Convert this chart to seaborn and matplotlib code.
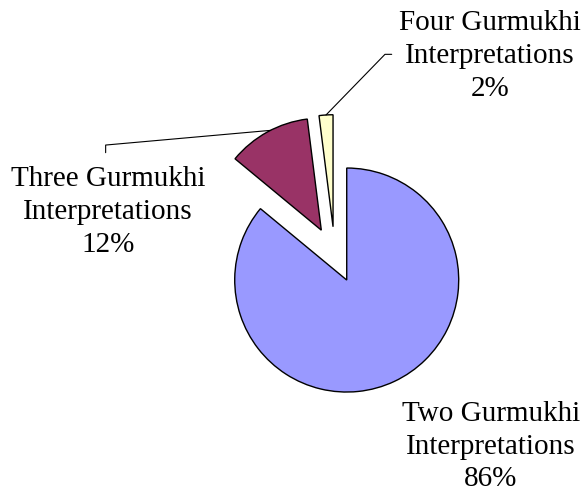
import matplotlib
matplotlib.use("Agg")
import matplotlib.pyplot as plt
import seaborn as sns
import numpy as np

# ---- data ----
categories = ["Two Gurmukhi\nInterpretations", "Three Gurmukhi\nInterpretations", "Four Gurmukhi\nInterpretations"]
values = [86, 12, 2]
colors = ["#9999FF", "#993366", "#FFFFCC"]

sns.set_theme(style="white")
plt.rcParams['font.family'] = ['Liberation Serif', 'DejaVu Serif']

fig = plt.figure(figsize=(5.85, 4.92), dpi=100)
ax = fig.add_axes([0, 0, 1, 1])
wedges, _ = ax.pie(values, colors=colors, startangle=90, counterclock=False,
                   explode=[0.25] * 3, radius=1,
                   wedgeprops=dict(edgecolor='black', linewidth=1.0))

# map: pie centre at pixel (334.8, 254.7), 112 px per unit
s = 112.0
cx, cy = 334.8, 254.7
W, H = 585, 492
ax.set_xlim(-cx / s, (W - cx) / s)
ax.set_ylim(-(H - cy) / s, cy / s)
ax.set_aspect('auto')
ax.axis('off')

total = sum(values)
pcts = [f"{round(v / total * 100)}%" for v in values]

label_pos = [(1.395, -1.715), (-2.025, 0.381), (1.386, 1.775)]
for lab, pct, (lx, ly) in zip(categories, pcts, label_pos):
    ax.text(lx, ly, f"{lab}\n{pct}", ha='center', va='center',
            multialignment='center', fontsize=21, color='black',
            linespacing=1.33)

def arc_point(w, ang):
    c = w.center
    a = np.deg2rad(ang)
    return c[0] + w.r * np.cos(a), c[1] + w.r * np.sin(a)

# leader for "Three"
p = arc_point(wedges[1], 117)
ax.plot([p[0], -2.046, -2.046], [p[1], 0.979, 0.911], color='black', lw=0.8)
# leader for "Four"
w = wedges[2]
p = arc_point(w, (w.theta1 + w.theta2) / 2)
ax.plot([p[0], 0.448, 0.508], [p[1], 1.789, 1.789], color='black', lw=0.8)

fig.savefig("out.png", dpi=100)
